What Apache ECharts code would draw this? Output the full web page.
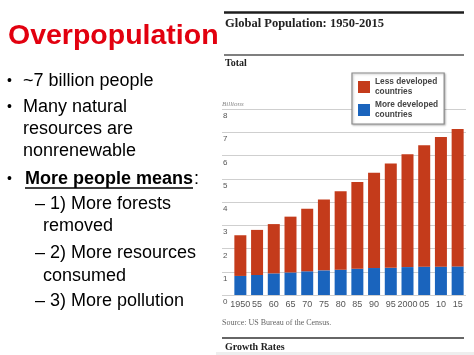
<!DOCTYPE html>
<html>
<head>
<meta charset="utf-8">
<script src="https://cdn.jsdelivr.net/npm/echarts@6/dist/echarts.min.js"></script>
<style>
html,body{margin:0;padding:0;background:#fff;}
#c{width:474px;height:355px;}
</style>
</head>
<body>
<div id="c"></div>
<script>
// Data (billions)
var years = ['1950','55','60','65','70','75','80','85','90','95','2000','05','10','15'];
var moreDeveloped = [0.82, 0.86, 0.93, 0.97, 1.02, 1.06, 1.09, 1.13, 1.16, 1.17, 1.20, 1.22, 1.22, 1.23];
var lessDeveloped = [1.75, 1.94, 2.12, 2.40, 2.69, 3.05, 3.37, 3.73, 4.10, 4.49, 4.85, 5.22, 5.58, 5.91];
var seriesNames = ['Less developed\ncountries', 'More developed\ncountries'];
var yTicks = [0, 8, 1];

var SANS = '"Liberation Sans", Arial, sans-serif';
var SERIF = '"Liberation Serif", "Times New Roman", serif';

function txt(x, y, s, font, fill, extra) {
  var st = {text: s, x: x, y: y, font: font, fill: fill || '#000', verticalAlign: 'middle', align: 'left'};
  if (extra) for (var k in extra) st[k] = extra[k];
  return {type: 'text', silent: true, style: st};
}
function line(x1, y1, x2, y2, w, c) {
  return {type: 'line', silent: true, shape: {x1: x1, y1: y1, x2: x2, y2: y2}, style: {stroke: c, lineWidth: w}};
}

var chart = echarts.init(document.getElementById('c'), null, {renderer: 'canvas'});
chart.setOption({
  animation: false,
  backgroundColor: '#fff',
  grid: {left: 232, right: 8, top: 109, bottom: 60},
  legend: {
    orient: 'vertical',
    left: 352, top: 73,
    data: seriesNames,
    icon: 'rect',
    itemWidth: 12, itemHeight: 12, itemGap: 3,
    padding: [4, 6, 4, 6],
    backgroundColor: '#fff',
    borderColor: '#8a8a8a', borderWidth: 1.2,
    shadowColor: 'rgba(0,0,0,0.25)', shadowBlur: 2, shadowOffsetX: 1, shadowOffsetY: 1,
    textStyle: {fontFamily: SANS, fontSize: 8.3, fontWeight: 'bold', color: '#444', lineHeight: 10},
    selectedMode: false
  },
  xAxis: {
    type: 'category', data: years, boundaryGap: true,
    axisLine: {show: false}, axisTick: {show: false},
    axisLabel: {fontFamily: SANS, fontSize: 9, color: '#555', margin: 5, interval: 0}
  },
  yAxis: {
    type: 'value', min: yTicks[0], max: yTicks[1], interval: yTicks[2],
    axisLine: {show: false},
    axisTick: {show: true, length: 10, lineStyle: {color: '#cfcfcf', width: 1}},
    splitLine: {lineStyle: {color: '#cfcfcf', width: 1}},
    axisLabel: {fontFamily: SANS, fontSize: 8, color: '#555', align: 'left', margin: 9,
      verticalAlign: 'top', padding: [3, 0, 0, 0]}
  },
  series: [
    {name: seriesNames[1], type: 'bar', stack: 'pop', data: moreDeveloped, barWidth: 12,
     itemStyle: {color: '#1a64bd'}},
    {name: seriesNames[0], type: 'bar', stack: 'pop', data: lessDeveloped, barWidth: 12,
     itemStyle: {color: '#c43b1b'}}
  ],
  graphic: [
    // left text column
    txt(8, 36, 'Overpopulation', 'bold 28.5px ' + SANS, '#e2000f'),
    txt(7, 81, '\u2022', '14px ' + SANS),
    txt(23, 81, '~7 billion people', '18px ' + SANS),
    txt(7, 107, '\u2022', '14px ' + SANS),
    txt(23, 107, 'Many natural', '18px ' + SANS),
    txt(23, 129, 'resources are', '18px ' + SANS),
    txt(23, 151, 'nonrenewable', '18px ' + SANS),
    txt(7, 179, '\u2022', '14px ' + SANS),
    txt(25, 179, 'More people means', 'bold 18px ' + SANS),
    line(25, 188, 193, 188, 1.6, '#000'),
    txt(194, 179, ':', '18px ' + SANS),
    txt(35, 204, '\u2013', '18px ' + SANS),
    txt(50, 204, '1) More forests', '18px ' + SANS),
    txt(43, 226, 'removed', '18px ' + SANS),
    txt(35, 253, '\u2013', '18px ' + SANS),
    txt(50, 253, '2) More resources', '18px ' + SANS),
    txt(43, 276, 'consumed', '18px ' + SANS),
    txt(35, 301, '\u2013', '18px ' + SANS),
    txt(50, 301, '3) More pollution', '18px ' + SANS),
    // chart header / footer
    line(224, 12.5, 464, 12.5, 2.4, '#1e1e1e'),
    txt(225, 24, 'Global Population: 1950-2015', 'bold 12.5px ' + SERIF, '#222'),
    line(224, 55, 464, 55, 1.4, '#555'),
    txt(225, 63, 'Total', 'bold 10px ' + SERIF, '#222'),
    txt(222, 104, 'Billions', 'italic 7px ' + SERIF, '#888'),
    txt(222, 323, 'Source: US Bureau of the Census.', '8px ' + SERIF, '#666'),
    line(222, 338, 464, 338, 1.5, '#333'),
    txt(225, 347, 'Growth Rates', 'bold 10px ' + SERIF, '#222'),
    {type: 'rect', silent: true, shape: {x: 216, y: 352, width: 258, height: 3}, style: {fill: '#eeeeee'}}
  ]
});
</script>
</body>
</html>
